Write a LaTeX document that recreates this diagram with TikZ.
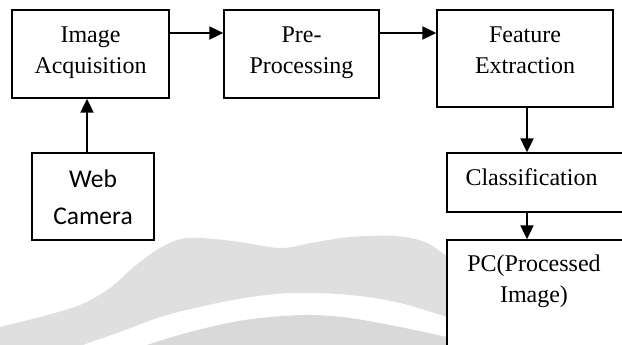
\documentclass[tikz,border=0pt]{standalone}
\usepackage{fontspec}
\setmainfont{Liberation Serif}
\newfontfamily\camfont{Carlito}
\usetikzlibrary{arrows.meta}
\definecolor{wmlight}{HTML}{DFDFDF}
\definecolor{wmdark}{HTML}{D9D9D9}
\begin{document}
\begin{tikzpicture}[x=1pt,y=-1pt,
  blk/.style={draw=black, line width=1.35pt, fill=white, rectangle, inner sep=0pt},
  lbl/.style={align=center, inner sep=0pt, font=\fontsize{24}{31}\selectfont},
  cam/.style={align=center, inner sep=0pt, font=\camfont\fontsize{25.5}{37.5}\selectfont},
  arr/.style={line width=2pt, -{Triangle[length=14pt,width=13pt]}}]
\useasboundingbox (0,0) rectangle (622,345);
\clip (0,0) rectangle (622,345);

% background swooshes
\fill[wmlight] plot[smooth, tension=0.55] coordinates {(-5,330) (0,327) (40,317) (80,305) (110,288) (135,266) (160,248) (187,238) (233,241) (280,248) (311,243) (350,237) (395,236) (425,242) (447,256) (480,275)}
  -- (480,330)
  -- plot[smooth, tension=0.55] coordinates {(447,317) (400,303) (350,295) (290,293) (233,300) (167,315) (120,332) (83,345) (70,352)}
  -- (-5,352) -- cycle;
\fill[wmdark] plot[smooth, tension=0.55] coordinates {(135,352) (147,345) (190,332) (233,322) (270,317) (311,315) (350,318) (400,327) (447,337) (480,345)}
  -- (480,360) -- (135,360) -- cycle;

% process blocks
\node[blk, minimum width=157pt, minimum height=88pt] (ia) at (90.5,54) {};
\node[blk, minimum width=155pt, minimum height=88pt] (pp) at (301.5,54) {};
\node[blk, minimum width=176pt, minimum height=97pt] (fe) at (525,58.5) {};
\node[blk, minimum width=193pt, minimum height=59pt] (cl) at (543.5,182.5) {};
\node[blk, minimum width=193pt, minimum height=140pt] (pc) at (543.5,310) {};
\node[blk, minimum width=122pt, minimum height=87pt] (wc) at (93,196.5) {};

% block labels
\node[lbl] (iat) at (90.5,53) {Image\\Acquisition};
\node[lbl] (ppt) at (301.5,53) {Pre-\\Processing};
\node[lbl] (fet) at (525,50.5) {Feature\\Extraction};
\node[lbl] (clt) at (531.5,176.8) {Classification};
\node[lbl] (pct) at (534,281.75) {PC(Processed\\Image)};
\node[cam] (wct) at (93,197) {Web\\Camera};

% connectors
\draw[arr] ([yshift=21pt]ia.east) coordinate (a1) -- (pp.west |- a1);
\draw[arr] ([yshift=21pt]pp.east) coordinate (a2) -- (fe.west |- a2);
\draw[arr] ([xshift=2pt]fe.south) coordinate (a3) -- (cl.north -| a3);
\draw[arr] (cl.south -| a3) coordinate (a4) -- (pc.north -| a4);
\draw[arr] ([xshift=-6pt]wc.north) coordinate (a5) -- (ia.south -| a5);
\end{tikzpicture}
\end{document}
